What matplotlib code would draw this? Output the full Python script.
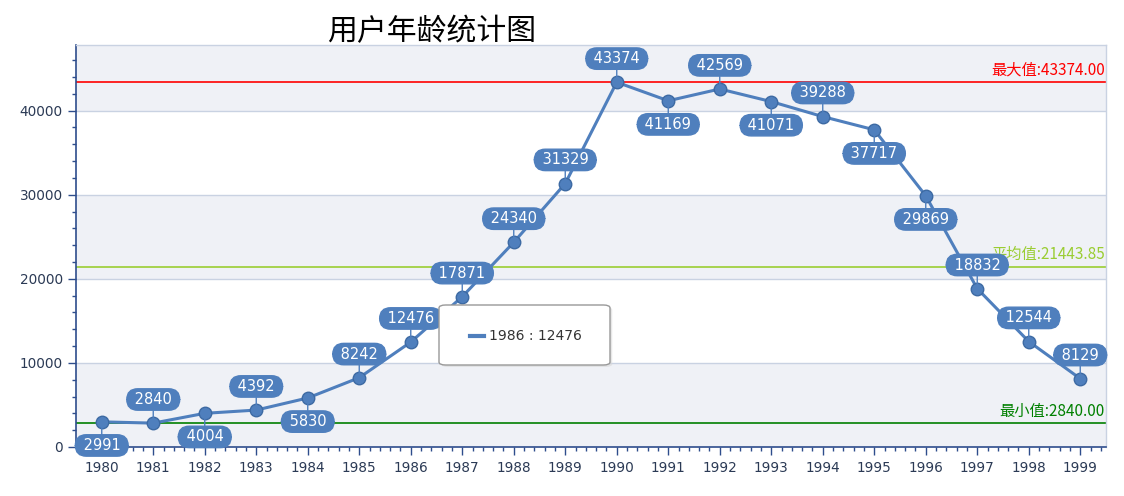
import matplotlib
matplotlib.use("Agg")
import matplotlib.pyplot as plt
from matplotlib.patches import FancyBboxPatch
from matplotlib.ticker import MultipleLocator
import numpy as np

plt.rcParams['font.family'] = ['DejaVu Sans', 'Noto Sans CJK SC']

years = [str(y) for y in range(1980, 2000)]
values = [2991, 2840, 4004, 4392, 5830, 8242, 12476, 17871, 24340, 31329,
          43374, 41169, 42569, 41071, 39288, 37717, 29869, 18832, 12544, 8129]
label_pos = ['below', 'above', 'below', 'above', 'below', 'above', 'above', 'above',
             'above', 'above', 'above', 'below', 'above', 'below', 'above', 'below',
             'below', 'above', 'above', 'above']
title = "用户年龄统计图"
tooltip_text = "1986 : 12476"

line_color = '#4f7fbd'
band_color = '#eff1f6'
grid_color = '#c9d2e2'
axis_color = '#2e4d8c'

fig = plt.figure(figsize=(11.24, 4.96), dpi=100)
ax = fig.add_axes([76/1124, 1-447/496, (1106-76)/1124, (447-45)/496])

x = np.arange(len(years))
ymax = 47800
ax.set_xlim(-0.5, len(years) - 0.5)
ax.set_ylim(0, ymax)

# alternating bands
for i, lo in enumerate(range(0, 50000, 10000)):
    if i % 2 == 0:
        ax.axhspan(lo, min(lo + 10000, ymax), color=band_color, zorder=0, lw=0)
for g in range(10000, 50000, 10000):
    ax.axhline(g, color=grid_color, lw=1, zorder=1)

vmax, vmin, vavg = max(values), min(values), sum(values) / len(values)
ax.axhline(vmax, color='#ff0000', lw=1.2, zorder=2)
ax.axhline(vavg, color='#9acd32', lw=1.2, zorder=2)
ax.axhline(vmin, color='#008000', lw=1.2, zorder=2)
mk_font = ['Noto Sans CJK SC', 'DejaVu Sans']
ax.text(len(years) - 0.52, vmax + 400, f"最大值:{vmax:.2f}", color='#ff0000',
        ha='right', va='bottom', fontsize=11, zorder=3, family=mk_font)
ax.text(len(years) - 0.52, vavg + 400, f"平均值:{vavg:.2f}", color='#9acd32',
        ha='right', va='bottom', fontsize=11, zorder=3, family=mk_font)
ax.text(len(years) - 0.52, vmin + 400, f"最小值:{vmin:.2f}", color='#008000',
        ha='right', va='bottom', fontsize=11, zorder=3, family=mk_font)

ax.plot(x, values, color=line_color, lw=2.2, zorder=4, marker='o', markersize=9,
        markerfacecolor=line_color, markeredgecolor='#3d6aa3', markeredgewidth=1)

for xi, v, pos in zip(x, values, label_pos):
    dy = 17 if pos == 'above' else -17
    ax.annotate(f" {v} ", xy=(xi, v), xytext=(0, dy), textcoords='offset points',
                ha='center', va='center', color='white', fontsize=10.5, zorder=6,
                bbox=dict(boxstyle='round,pad=0.22,rounding_size=0.75', fc=line_color,
                          ec=line_color),
                arrowprops=dict(arrowstyle='-', color=line_color, lw=1,
                                shrinkA=0, shrinkB=0))

ax.set_xticks(x)
ax.set_xticklabels(years)
ax.xaxis.set_minor_locator(MultipleLocator(0.2))
ax.yaxis.set_major_locator(MultipleLocator(10000))
ax.yaxis.set_minor_locator(MultipleLocator(2000))
ax.tick_params(axis='both', which='major', colors=axis_color, length=6, width=1,
               labelsize=9.8, labelcolor='#2b3a55')
ax.tick_params(axis='both', which='minor', colors=axis_color, length=3, width=1)
ax.tick_params(axis='x', pad=4)

for s in ['left', 'bottom']:
    ax.spines[s].set_color(axis_color)
    ax.spines[s].set_linewidth(1.2)
for s in ['top', 'right']:
    ax.spines[s].set_color('#c9d2e2')
    ax.spines[s].set_linewidth(1)

fig.text(432/1124, 1-32/496, title, ha='center', va='center', fontsize=21.5,
         color='black', family=['Noto Sans CJK SC', 'DejaVu Sans'])

# tooltip
tx0, ty0, tw, th = 439/1124, 1-365/496, 171/1124, 60/496
shadow = FancyBboxPatch((tx0 + 0.002, ty0 - 0.004), tw, th,
                        boxstyle='round,pad=0,rounding_size=0.006',
                        transform=fig.transFigure, fc='#d8d8d8', ec='none',
                        zorder=9, alpha=0.6)
box = FancyBboxPatch((tx0, ty0), tw, th, boxstyle='round,pad=0,rounding_size=0.006',
                     transform=fig.transFigure, fc='white', ec='#999999', lw=1, zorder=10)
fig.add_artist(shadow)
fig.add_artist(box)
fig.add_artist(plt.Line2D([470/1124, 484/1124], [1-336/496, 1-336/496],
                          transform=fig.transFigure, color=line_color, lw=3, zorder=11))
fig.text(489/1124, 1-336/496, tooltip_text, ha='left', va='center', fontsize=10,
         color='#333333', zorder=12)

fig.savefig('out.png', dpi=100)
